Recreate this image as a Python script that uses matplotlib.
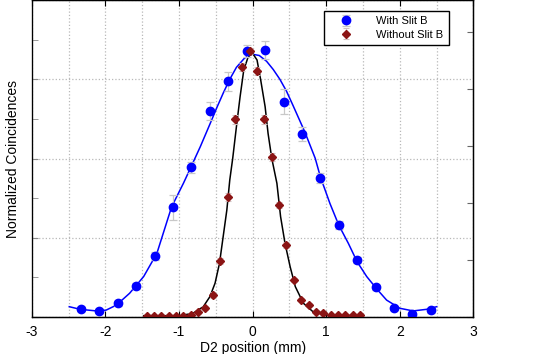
import numpy as np
import matplotlib
matplotlib.use("Agg")
import matplotlib.pyplot as plt
from matplotlib.ticker import MultipleLocator, NullFormatter

plt.rcParams['font.family'] = ['Liberation Sans', 'DejaVu Sans']
plt.rcParams['axes.unicode_minus'] = False

# measured points, with slit B (blue circles)
with_x = [-2.33, -2.08, -1.83, -1.58, -1.33, -1.08, -0.83, -0.58, -0.33, -0.08,
          0.17, 0.42, 0.67, 0.92, 1.17, 1.42, 1.67, 1.92, 2.17, 2.42]
with_y = [0.030, 0.023, 0.052, 0.118, 0.231, 0.416, 0.567, 0.780, 0.893, 1.007,
          1.011, 0.815, 0.693, 0.527, 0.349, 0.216, 0.112, 0.034, 0.011, 0.025]
with_err = [0.008, 0.008, 0.010, 0.012, 0.015, 0.047, 0.020, 0.033, 0.036, 0.023,
            0.034, 0.047, 0.028, 0.020, 0.015, 0.012, 0.010, 0.008, 0.008, 0.008]

# measured points, without slit B (dark red diamonds)
without_x = [-1.44, -1.34, -1.24, -1.14, -1.04, -0.94, -0.84, -0.74, -0.64, -0.54,
             -0.44, -0.34, -0.24, -0.14, -0.04, 0.06, 0.16, 0.26, 0.36, 0.46,
             0.56, 0.66, 0.76, 0.86, 0.96, 1.06, 1.16, 1.26, 1.36, 1.46]
without_y = [0.005, 0.005, 0.005, 0.005, 0.005, 0.005, 0.009, 0.018, 0.035, 0.083,
             0.212, 0.454, 0.748, 0.947, 1.007, 0.931, 0.748, 0.607, 0.425, 0.273,
             0.141, 0.065, 0.047, 0.020, 0.016, 0.009, 0.006, 0.006, 0.006, 0.006]
without_err = [0.004] * 6 + [0.005, 0.006, 0.008, 0.010, 0.012, 0.015, 0.018, 0.015,
                              0.012, 0.015, 0.018, 0.015, 0.012, 0.010, 0.008, 0.006,
                              0.006, 0.005, 0.005, 0.004, 0.004, 0.004, 0.004, 0.004]

# fitted curves
fit_with_x = [-2.49, -2.34, -2.12, -1.99, -1.85, -1.67, -1.48, -1.30, -1.10, -0.94,
              -0.85, -0.71, -0.58, -0.49, -0.40, -0.31, -0.22, -0.11, -0.01, 0.09,
              0.19, 0.28, 0.37, 0.46, 0.55, 0.71,
              0.85, 0.92, 1.05, 1.17, 1.30, 1.42, 1.55, 1.69, 1.82, 2.00, 2.18,
              2.36, 2.50]
fit_with_y = [0.039, 0.029, 0.023, 0.026, 0.045, 0.090, 0.153, 0.241, 0.417, 0.506,
              0.560, 0.645, 0.730, 0.790, 0.847, 0.900, 0.945, 0.980, 0.995, 0.990,
              0.968, 0.937, 0.900, 0.855, 0.800, 0.700,
              0.601, 0.531, 0.430, 0.348, 0.279, 0.209, 0.153, 0.105, 0.064, 0.033,
              0.023, 0.029, 0.039]

fit_without_x = [-1.48, -0.99, -0.81, -0.67, -0.58, -0.51, -0.45, -0.40, -0.35, -0.31,
                 -0.27, -0.22, -0.17, -0.12, -0.06, 0.00, 0.06, 0.11, 0.17, 0.21,
                 0.26, 0.33, 0.38, 0.44, 0.51, 0.58, 0.69, 0.82, 1.05, 1.50]
fit_without_y = [0.005, 0.005, 0.014, 0.039, 0.077, 0.128, 0.203, 0.304, 0.405, 0.519,
                 0.601, 0.720, 0.834, 0.935, 0.985, 0.998, 0.973, 0.897, 0.796, 0.695,
                 0.601, 0.506, 0.380, 0.279, 0.190, 0.115, 0.052, 0.020, 0.005, 0.005]

fig = plt.figure(figsize=(5.45, 3.54), dpi=100)
ax = fig.add_axes([0.0582, 0.1045, 0.8106, 0.8955])

ax.plot(fit_with_x, fit_with_y, color='blue', lw=1.1, zorder=2)
ax.plot(fit_without_x, fit_without_y, color='black', lw=1.1, zorder=2)

ax.errorbar(with_x, with_y, yerr=with_err, fmt='o', color='blue', ms=6,
            ecolor='#c8c8c8', elinewidth=0.9, capsize=3, capthick=0.9,
            label='With Slit B', zorder=3)
ax.errorbar(without_x, without_y, yerr=without_err, fmt='D', color='#8b1414', ms=4,
            ecolor='#d0c0c0', elinewidth=0.8, capsize=2, capthick=0.8,
            label='Without Slit B', zorder=3)

ax.set_xlim(-3, 3)
ax.set_ylim(0, 1.2)
ax.xaxis.set_major_locator(MultipleLocator(1))
ax.xaxis.set_minor_locator(MultipleLocator(0.5))
ax.yaxis.set_major_locator(MultipleLocator(0.3))
ax.yaxis.set_minor_locator(MultipleLocator(0.15))
ax.yaxis.set_major_formatter(NullFormatter())
ax.grid(True, which='both', axis='x', color='#b8b8b8', ls=':', lw=0.9)
ax.grid(True, which='major', axis='y', color='#b8b8b8', ls=':', lw=0.9)
ax.tick_params(axis='x', which='major', direction='in', top=True, length=4,
               labelsize=10, pad=6)
ax.tick_params(axis='x', which='minor', length=0)
ax.tick_params(axis='y', which='both', direction='in', length=4, color='#888888')
for s in ax.spines.values():
    s.set_linewidth(1.0)
ax.spines['left'].set_color('#666666')

ax2 = ax.twinx()
ax2.set_ylim(0, 5.56)
ax2.yaxis.set_major_locator(MultipleLocator(1))
ax2.yaxis.set_major_formatter(NullFormatter())
ax2.tick_params(axis='y', direction='in', length=4, color='#666666')

ax.set_xlabel('D2 position (mm)', fontsize=10, labelpad=1)
ax.set_ylabel('Normalized Coincidences', fontsize=10, labelpad=5)

leg = ax.legend(loc='upper right', bbox_to_anchor=(0.944, 0.966), fontsize=8,
                frameon=True, fancybox=False, edgecolor='black', framealpha=1,
                handlelength=3.0, handletextpad=1.2, borderpad=0.5,
                labelspacing=0.3, borderaxespad=0, numpoints=1)
leg.get_frame().set_linewidth(1.0)
leg.set_zorder(5)

fig.savefig('out.png', dpi=100)
